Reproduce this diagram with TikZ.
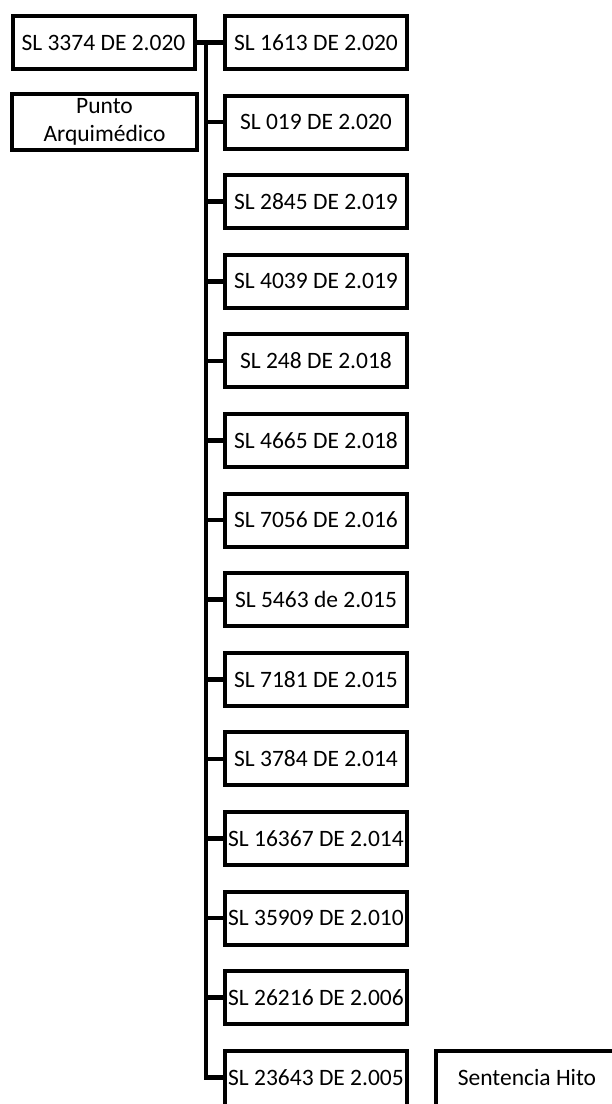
\documentclass[tikz,border=0pt]{standalone}
\usepackage{fontspec}
\setmainfont{Carlito}
\usetikzlibrary{positioning,calc}

\begin{document}
\begin{tikzpicture}[
    x=1pt, y=-1pt,
    caja/.style={rectangle,draw,line width=4pt,fill=white,inner xsep=0pt,inner ysep=0pt,
      minimum width=182pt,minimum height=53pt,align=center,
      font=\fontsize{23.5}{28}\selectfont},
    cortada/.style={minimum height=62pt,text depth=9pt},
    enlace/.style={draw,line width=4.5pt,line join=miter}
  ]
  \useasboundingbox (0,0) rectangle (611,1104);
  % Left column
  \node[caja] (sl0) at (103.5,42.5) {SL 3374 DE 2.020};
  \node[caja,minimum width=185pt,minimum height=56pt] (punto) at (104.5,122) {Punto\\Arquimédico};
  % Right column
  \foreach \i/\t in {1/SL 1613 DE 2.020, 2/SL 019 DE 2.020, 3/SL 2845 DE 2.019,
      4/SL 4039 DE 2.019, 5/SL 248 DE 2.018, 6/SL 4665 DE 2.018,
      7/SL 7056 DE 2.016, 8/SL 5463 de 2.015, 9/SL 7181 DE 2.015,
      10/SL 3784 DE 2.014, 11/SL 16367 DE 2.014, 12/SL 35909 DE 2.010,
      13/SL 26216 DE 2.006} {
    \node[caja] (sl\i) at (316,{42.5+(\i-1)*79.6}) {\t};
  }
  % Bottom row (cut by the page edge)
  \node[caja,cortada] (sl14) at (316,1081.8) {SL 23643 DE 2.005};
  \node[caja,cortada] (hito) at (527,1081.8) {Sentencia Hito};
  % Trunk
  \coordinate (tronco) at (206,42.5);
  \draw[enlace] (sl0.east) -- (sl1.west);
  \draw[enlace] (tronco) |- (sl14.west |- 0,1077.3);
  \foreach \i in {2,...,13} {
    \draw[enlace] (sl\i.west -| tronco) -- (sl\i.west);
  }
\end{tikzpicture}
\end{document}
